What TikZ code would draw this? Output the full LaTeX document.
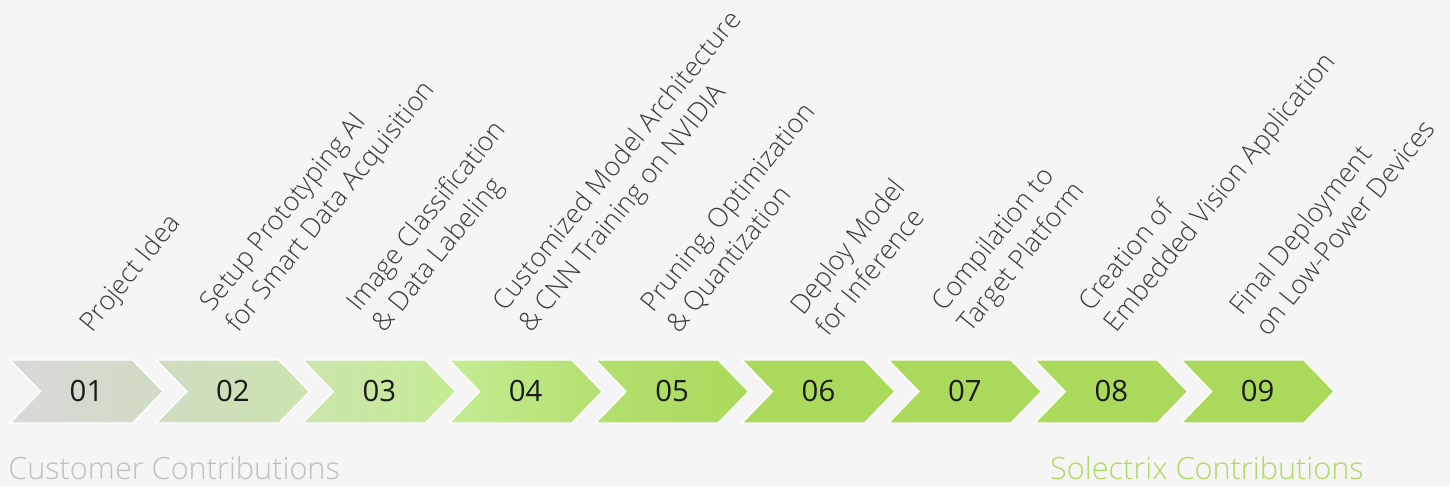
\documentclass[tikz,border=0pt]{standalone}
\usepackage{fontspec}
\setmainfont{Open Sans}
\newfontfamily\lightfont{Open Sans Light}
\usetikzlibrary{shapes.symbols}

\definecolor{bg}{HTML}{F5F5F5}
\definecolor{numtext}{HTML}{1A1A1A}
\definecolor{lbltext}{HTML}{3A3A3A}
\definecolor{custgrey}{HTML}{BFBFBF}
\definecolor{sxgreen}{HTML}{ADDA62}
% fill colours along the row, grey to green
\definecolor{g0}{HTML}{D9D9D9}
\definecolor{g1}{HTML}{CFDCC2}
\definecolor{g2}{HTML}{CCE4AE}
\definecolor{g3}{HTML}{C5EC93}
\definecolor{g4}{HTML}{B3E06F}
\definecolor{g5}{HTML}{AAD95B}

\begin{document}
\begin{tikzpicture}[
  x=0.75pt, y=-0.75pt,
  node distance = 109.8pt,
  chev/.style={signal, signal to=east, signal from=west, signal pointer angle=92,
    minimum width=114.75pt, minimum height=47.25pt, inner sep=0pt,
    draw=white, line width=1pt, text=numtext, font=\fontsize{22}{26}\selectfont},
  lbl/.style={rotate=51, anchor=south west, align=left, inner sep=0pt,
    text=lbltext, font=\lightfont\fontsize{20}{25}\selectfont},
  foot/.style={inner sep=0pt, font=\lightfont\fontsize{23}{28}\selectfont}
  ]

\useasboundingbox [fill=bg] (0,0) rectangle (1450,486);

\node [chev, left color=g0, right color=g1] (c1) at (86.5,391.5) {01};
\node [chev, left color=g1, right color=g2, right of=c1] (c2) {02};
\node [chev, left color=g2, right color=g3, right of=c2] (c3) {03};
\node [chev, left color=g3, right color=g4, right of=c3] (c4) {04};
\node [chev, left color=g4, right color=g5, right of=c4] (c5) {05};
\node [chev, fill=g5, right of=c5] (c6) {06};
\node [chev, fill=g5, right of=c6] (c7) {07};
\node [chev, fill=g5, right of=c7] (c8) {08};
\node [chev, fill=g5, right of=c8] (c9) {09};

\node [lbl] (l1) at ([xshift=8pt, yshift=16pt]c1.north) {Project Idea};
\node [lbl] (l2) at ([xshift=8pt, yshift=16pt]c2.north) {Setup Prototyping AI\\for Smart Data Acquisition};
\node [lbl] (l3) at ([xshift=8pt, yshift=16pt]c3.north) {Image Classification\\\& Data Labeling};
\node [lbl] (l4) at ([xshift=8pt, yshift=16pt]c4.north) {Customized Model Architecture\\\& CNN Training on NVIDIA};
\node [lbl] (l5) at ([xshift=8pt, yshift=16pt]c5.north) {Pruning, Optimization\\\& Quantization};
\node [lbl] (l6) at ([xshift=8pt, yshift=16pt]c6.north) {Deploy Model\\for Inference};
\node [lbl] (l7) at ([xshift=8pt, yshift=16pt]c7.north) {Compilation to\\Target Platform};
\node [lbl] (l8) at ([xshift=8pt, yshift=16pt]c8.north) {Creation of\\Embedded Vision Application};
\node [lbl] (l9) at ([xshift=8pt, yshift=16pt]c9.north) {Final Deployment\\on Low-Power Devices};

\node [foot, anchor=base west, text=custgrey] (cust) at (8,479) {Customer Contributions};
\node [foot, anchor=base east, text=sxgreen] (sx) at (1364,479) {Solectrix Contributions};

\end{tikzpicture}
\end{document}
